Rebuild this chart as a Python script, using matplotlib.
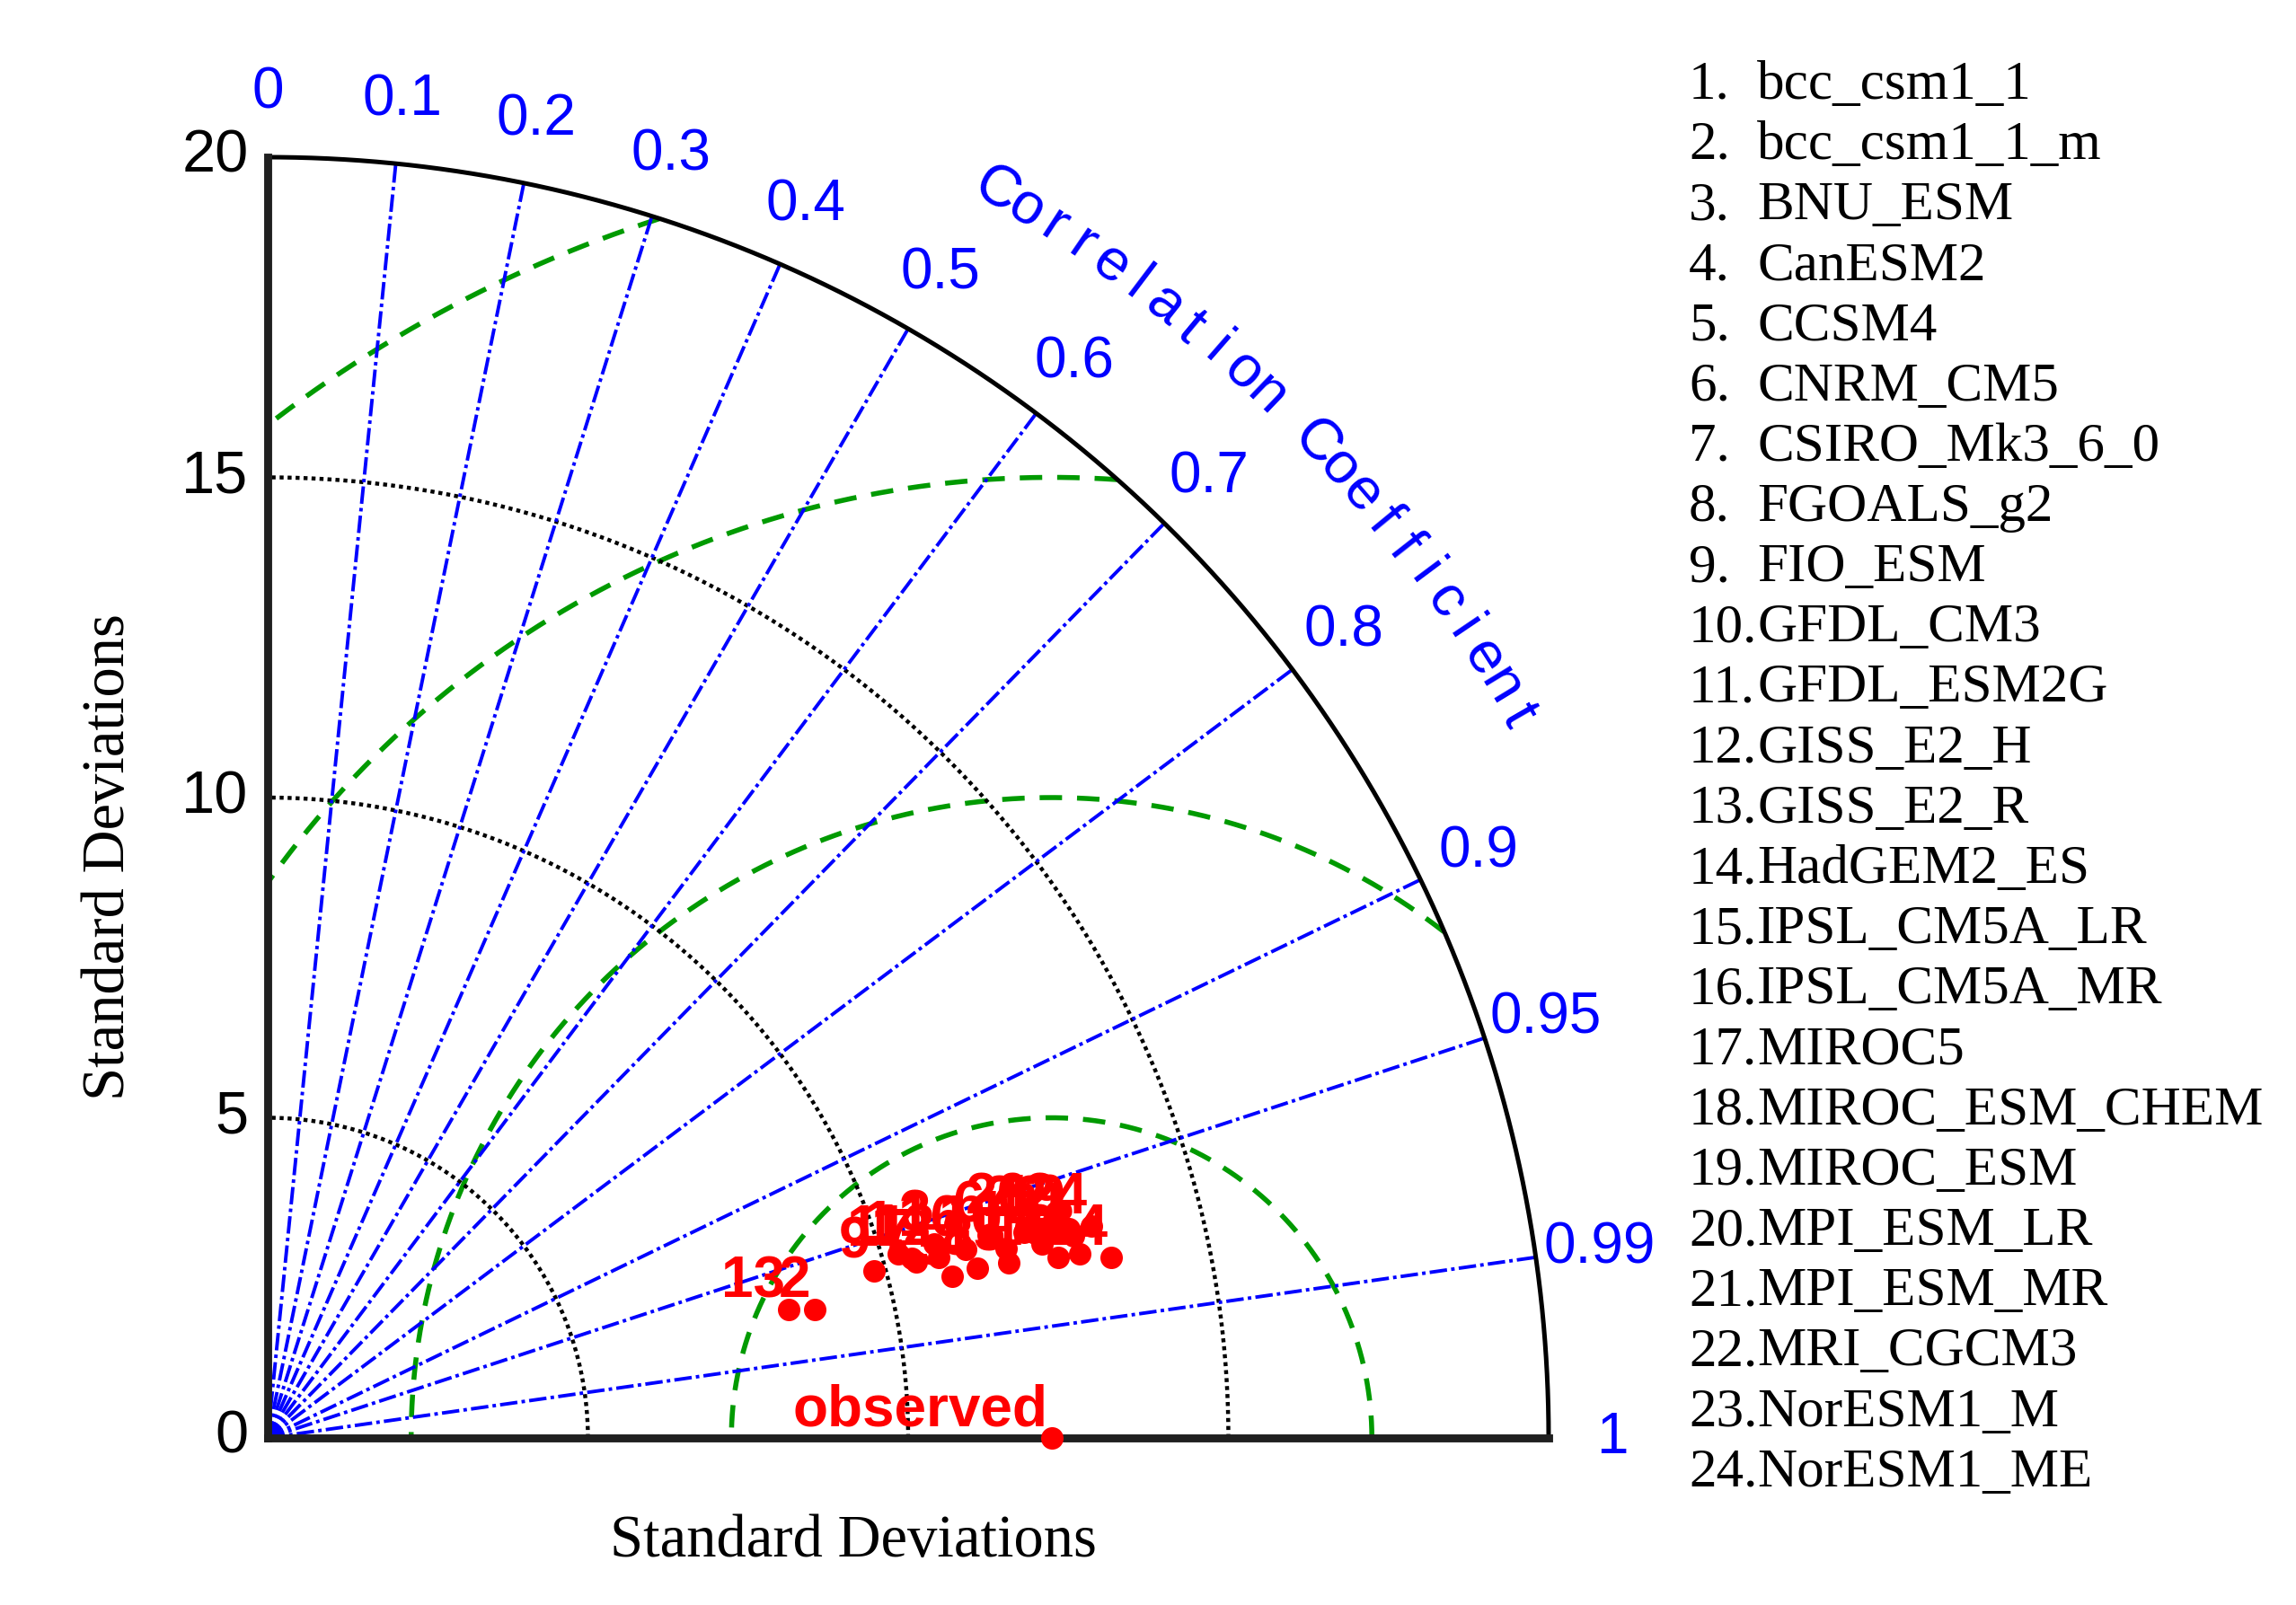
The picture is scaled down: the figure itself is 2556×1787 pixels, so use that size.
import numpy as np
import matplotlib
matplotlib.use("Agg")
import matplotlib.pyplot as plt

# CMIP5 models (legend order)
models = ["bcc_csm1_1", "bcc_csm1_1_m", "BNU_ESM", "CanESM2", "CCSM4", "CNRM_CM5",
          "CSIRO_Mk3_6_0", "FGOALS_g2", "FIO_ESM", "GFDL_CM3", "GFDL_ESM2G", "GISS_E2_H",
          "GISS_E2_R", "HadGEM2_ES", "IPSL_CM5A_LR", "IPSL_CM5A_MR", "MIROC5",
          "MIROC_ESM_CHEM", "MIROC_ESM", "MPI_ESM_LR", "MPI_ESM_MR", "MRI_CGCM3",
          "NorESM1_M", "NorESM1_ME"]

# (std dev, correlation)
stdDev = [10.26, 8.77, 10.84, 12.24, 10.98, 11.69, 10.49, 11.39, 9.82, 11.90, 10.44, 10.85,
          8.38, 13.47, 11.89, 11.29, 12.46, 12.66, 12.93, 12.40, 12.97, 12.66, 13.00, 13.28]
corrCoef = [0.960, 0.9735, 0.960, 0.965, 0.9733, 0.9625, 0.965, 0.9725, 0.964, 0.9686, 0.9631, 0.9657,
            0.971, 0.9778, 0.9731, 0.9653, 0.970, 0.9749, 0.9675, 0.9637, 0.970, 0.9661, 0.9753, 0.9684]
obsStd = 12.24

corrTicks = [0, 0.1, 0.2, 0.3, 0.4, 0.5, 0.6, 0.7, 0.8, 0.9, 0.95, 0.99, 1]
stdTicks = [0, 5, 10, 15, 20]
stdArcs = [5, 10, 15]
rmsLevels = [5, 10, 15, 20]
maxStd = 20

sans = "Liberation Sans"
serif = "Liberation Serif"
blue = "#0000ff"
green = "#009a00"
red = "#ff0000"

W, H = 2556, 1787
fig = plt.figure(figsize=(W / 200, H / 200), dpi=200)
ax = fig.add_axes([298 / W, 1 - 1601 / H, 1426 / W, 1426 / H])
ax.set_xlim(0, maxStd)
ax.set_ylim(0, maxStd)
ax.axis("off")

th = np.linspace(0, np.pi / 2, 500)

# centred RMS difference arcs
for r in rmsLevels:
    t = np.linspace(0, np.pi, 1500)
    x = obsStd + r * np.cos(t)
    y = r * np.sin(t)
    inside = (x >= 0) & (x ** 2 + y ** 2 <= maxStd ** 2)
    x = np.where(inside, x, np.nan)
    y = np.where(inside, y, np.nan)
    ax.plot(x, y, color=green, lw=2, dashes=(4.5, 3), zorder=2)

# std dev arcs
for s in stdArcs:
    ax.plot(s * np.cos(th), s * np.sin(th), color="black", lw=1.6, dashes=(1, 1), zorder=2)

# correlation rays
for c in corrTicks[1:-1]:
    a = np.arccos(c)
    ax.plot([0, maxStd * np.cos(a)], [0, maxStd * np.sin(a)], color=blue, lw=1.4,
            ls=(0, (5, 1.2, 1, 1.2)), zorder=2)

# frame
ax.plot(maxStd * np.cos(th), maxStd * np.sin(th), color="black", lw=1.8, clip_on=False, zorder=3)
ax.plot([0, 0], [0, maxStd], color="#202020", lw=3.2, clip_on=False, solid_capstyle="projecting", zorder=3)
ax.plot([0, maxStd], [0, 0], color="#202020", lw=3.2, clip_on=False, solid_capstyle="projecting", zorder=3)

# tick labels
for s in stdTicks:
    ax.text(-0.3, s, str(s), ha="right", va="center", fontsize=24, family=sans, color="black")
for c in corrTicks:
    a = np.arccos(c)
    ax.text(21.0 * np.cos(a), 21.0 * np.sin(a), "{:g}".format(c), ha="center", va="center",
            fontsize=23, family=sans, color=blue)

title = "Correlation Coefficient"
angs = np.linspace(59.7, 30.0, len(title))
for ch, a in zip(title, angs):
    ar = np.deg2rad(a)
    ax.text(22.55 * np.cos(ar), 22.55 * np.sin(ar), ch, rotation=a - 90, rotation_mode="anchor",
            ha="center", va="center", fontsize=23.5, family=sans, color=blue)

# models
std = np.array(stdDev)
cc = np.array(corrCoef)
px = std * cc
py = std * np.sin(np.arccos(cc))
ax.plot(px, py, "o", color=red, ms=8, ls="none", zorder=5)
for i in range(len(models)):
    ax.annotate(str(i + 1), (px[i], py[i]), xytext=(-1.5, 5), textcoords="offset points",
                ha="right", va="baseline", color=red, fontsize=23, fontweight="bold",
                family=sans, zorder=6)

ax.plot([obsStd], [0], "o", color=red, ms=8, clip_on=False, zorder=5)
ax.annotate("observed", (obsStd, 0), xytext=(-1.5, 5), textcoords="offset points",
            ha="right", va="baseline", color=red, fontsize=23, fontweight="bold",
            family=sans, zorder=6)

# axis titles
fig.text(950 / W, 1 - 1716 / H, "Standard Deviations", ha="center", va="center",
         family=serif, fontsize=24)
fig.text(122 / W, 1 - 954 / H, "Standard Deviations", ha="center", va="center",
         rotation=90, family=serif, fontsize=24)

# model list
y0, y1 = 95, 1640
for i, m in enumerate(models):
    yy = y0 + i * (y1 - y0) / (len(models) - 1)
    fig.text(1880 / W, 1 - yy / H, "{0}.".format(i + 1), ha="left", va="center",
             family=serif, fontsize=22)
    fig.text(1956 / W, 1 - yy / H, m, ha="left", va="center", family=serif, fontsize=22)

fig.savefig("out.png", dpi=200)
